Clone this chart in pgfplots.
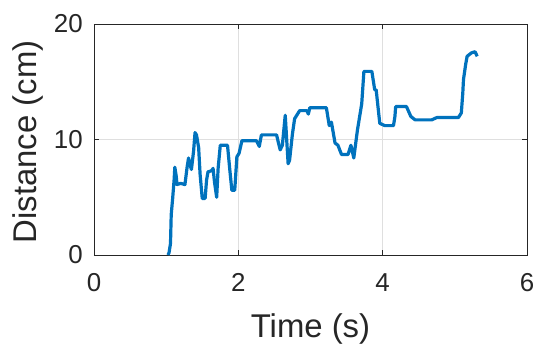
\documentclass[border=0pt]{standalone}
\usepackage{fontspec}
\setmainfont{Liberation Sans}
\usepackage{pgfplots}
\pgfplotsset{compat=1.18}
\definecolor{mblue}{RGB}{0,114,189}
\definecolor{axgray}{RGB}{38,38,38}
\definecolor{gridgray}{RGB}{223,223,223}

\begin{document}
\begin{tikzpicture}
\useasboundingbox (-94bp,-101bp) rectangle (456bp,255bp);
\begin{axis}[
    scale only axis,
    width=433bp, height=231bp,
    xmin=0, xmax=6, ymin=0, ymax=20,
    xtick={0,2,4,6}, ytick={0,10,20},
    grid=major,
    major grid style={draw=gridgray, line width=0.6bp},
    axis line style={draw=axgray, line width=0.8bp},
    tick style={draw=axgray, line width=0.8bp},
    tick align=inside, major tick length=5bp,
    tick pos=both,
    /pgf/number format/assume math mode=true,
    ticklabel style={font=\fontsize{26}{30}\selectfont, text=axgray},
    xticklabel style={inner sep=0pt, anchor=north, yshift=-18bp},
    yticklabel style={inner sep=0pt, anchor=east, xshift=-11bp},
    label style={font=\fontsize{33}{38}\selectfont, text=axgray},
    xlabel={Time (s)},
    ylabel={Distance (cm)},
    xlabel style={at={(axis description cs:0.5,-0.359)}, anchor=base},
    ylabel style={at={(axis description cs:-0.152,0.49)}, anchor=center},
]
\addplot[color=mblue, line width=3.2bp, line join=round] coordinates {
(1.025,0) (1.04,0.2) (1.06,1.0) (1.07,3.5) (1.09,4.9) (1.11,6.5) (1.12,7.6)
(1.14,6.8) (1.15,6.1) (1.20,6.2) (1.26,6.1) (1.29,7.6) (1.31,8.4) (1.33,7.8)
(1.35,7.4) (1.38,9.0) (1.40,10.6) (1.42,10.4) (1.45,9.3) (1.47,7.0) (1.50,4.9)
(1.54,4.9) (1.56,6.5) (1.58,7.2) (1.63,7.3) (1.65,7.5) (1.67,6.3) (1.70,5.0)
(1.72,7.5) (1.75,9.5) (1.85,9.5) (1.88,7.5) (1.91,5.6) (1.95,5.6) (1.98,8.5)
(2.01,8.8) (2.05,9.9) (2.25,9.9) (2.29,9.4) (2.32,10.4) (2.44,10.4) (2.53,10.4)
(2.56,9.6) (2.58,9.1) (2.61,9.5) (2.65,12.1) (2.67,10.0) (2.69,7.9) (2.71,8.2)
(2.75,10.5) (2.78,11.8) (2.85,12.5) (2.95,12.5) (2.97,12.2) (2.99,12.75)
(3.22,12.75) (3.26,11.2) (3.29,11.5) (3.34,9.7) (3.38,9.5) (3.43,8.7)
(3.52,8.7) (3.56,9.5) (3.60,8.4) (3.65,10.8) (3.71,13.1) (3.74,15.9)
(3.85,15.9) (3.89,14.3) (3.91,14.3) (3.96,11.4) (4.03,11.2) (4.15,11.2)
(4.17,12.0) (4.18,12.85) (4.33,12.85) (4.39,12.0) (4.45,11.7) (4.68,11.7)
(4.75,11.9) (5.05,11.9) (5.09,12.3) (5.11,14.0) (5.12,15.2) (5.15,16.5)
(5.17,17.2) (5.23,17.5) (5.28,17.6) (5.31,17.2)
};
\end{axis}
\end{tikzpicture}
\end{document}
